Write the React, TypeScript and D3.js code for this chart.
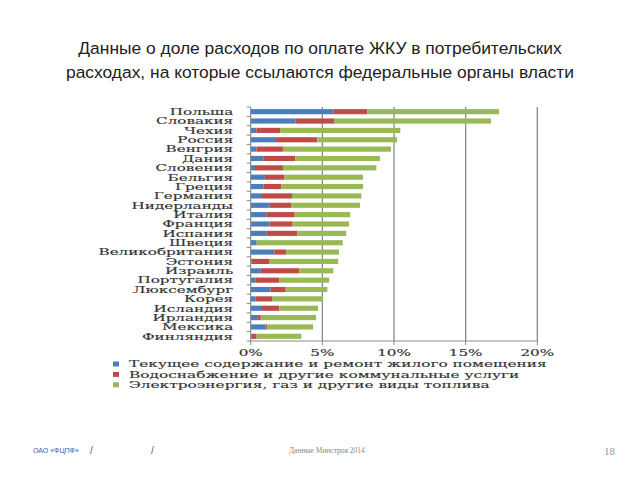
import { useMemo } from "react";
import * as d3 from "d3";

const countries = [
  "Польша", "Словакия", "Чехия", "Россия", "Венгрия", "Дания", "Словения",
  "Бельгия", "Греция", "Германия", "Нидерланды", "Италия", "Франция", "Испания",
  "Швеция", "Великобритания", "Эстония", "Израиль", "Португалия", "Люксембург",
  "Корея", "Исландия", "Ирландия", "Мексика", "Финляндия",
];
// shares of consumer spending, %
const maintenance = [5.76, 3.14, 0.4, 1.77, 0.4, 0.88, 0.3, 0.99, 0.9, 0.72, 1.33, 1.12, 1.31, 1.12, 0.42, 1.65, 0.05, 0.7, 0.35, 1.37, 0.35, 0.79, 0.46, 1.04, 0.05];
const utilities = [2.38, 2.67, 1.65, 2.88, 1.85, 2.23, 1.95, 1.35, 1.23, 2.16, 1.52, 1.95, 1.62, 2.14, 0, 0.81, 1.23, 2.69, 1.65, 1.07, 1.18, 1.21, 0.24, 0.12, 0.37];
const energy = [9.19, 10.96, 8.39, 5.56, 7.54, 5.91, 6.52, 5.5, 5.71, 4.84, 4.78, 3.88, 3.93, 3.41, 6.0, 3.7, 4.83, 2.37, 3.48, 2.91, 3.52, 2.7, 3.86, 3.19, 3.11];

const seriesNames = [
  "Текущее содержание и ремонт жилого помещения",
  "Водоснабжение и другие коммунальные услуги",
  "Электроэнергия, газ и другие виды топлива",
];
const seriesColors = ["#4a7ebb", "#be4b48", "#98b954"];
const xTicks = [0, 5, 10, 15, 20];

const title1 = "Данные о доле расходов по оплате ЖКУ в потребительских";
const title2 = "расходах, на которые ссылаются федеральные органы власти";

const serif = "'DejaVu Serif', serif";
const sans = "'Liberation Sans', Arial, sans-serif";
const stretch = 1.65;
const legendStretch = 1.67;

export default function App() {
  const W = 640, H = 480;
  const plot = { left: 250.7, right: 537.3, top: 107, bottom: 341 };

  const rows = useMemo(
    () => countries.map((c, i) => ({ country: c, s0: maintenance[i], s1: utilities[i], s2: energy[i] })),
    []
  );
  const stacked = d3.stack<any>().keys(["s0", "s1", "s2"])(rows);

  const x = d3.scaleLinear().domain([0, 20]).range([plot.left, plot.right]);
  const y = d3.scaleBand().domain(countries).range([plot.top, plot.bottom]).paddingInner(0.45).paddingOuter(0.225);
  const step = y.step();
  const bounds = d3.range(countries.length + 1).map((i) => plot.top + i * step);

  const chartText = { fontFamily: serif, fontSize: 9.2, fill: "#333", stroke: "#333", strokeWidth: 0.15 };

  return (
    <svg width={W} height={H} style={{ position: "absolute", left: 0, top: 0, background: "#fff" }}>
      <text x={W / 2} y={54} textAnchor="middle" fontFamily={sans} fontSize={17.4} fill="#222">{title1}</text>
      <text x={W / 2} y={78} textAnchor="middle" fontFamily={sans} fontSize={17.4} fill="#222">{title2}</text>

      {/* gridlines */}
      {xTicks.slice(1).map((t) => (
        <line key={t} x1={x(t)} x2={x(t)} y1={plot.top} y2={plot.bottom} stroke="#8a8a8a" strokeWidth={1.3} />
      ))}

      {/* bars */}
      {stacked.map((s, k) => (
        <g key={k} fill={seriesColors[k]}>
          {s.map((d: any, i: number) => (
            <rect key={i} x={x(d[0])} y={y(countries[i])} width={Math.max(0, x(d[1]) - x(d[0]))} height={y.bandwidth()} />
          ))}
        </g>
      ))}

      {/* axes */}
      <line x1={plot.left} x2={plot.left} y1={plot.top} y2={plot.bottom} stroke="#8a8a8a" strokeWidth={1.2} />
      <line x1={plot.left} x2={plot.right} y1={plot.bottom} y2={plot.bottom} stroke="#8a8a8a" strokeWidth={1.2} />
      {bounds.map((b, i) => (
        <line key={i} x1={plot.left - 4} x2={plot.left} y1={b} y2={b} stroke="#8a8a8a" strokeWidth={1} />
      ))}
      {xTicks.map((t) => (
        <line key={t} x1={x(t)} x2={x(t)} y1={plot.bottom} y2={plot.bottom + 4} stroke="#8a8a8a" strokeWidth={1} />
      ))}

      {/* category labels */}
      {countries.map((c) => (
        <text key={c} transform={`translate(${plot.left - 17.5},${(y(c) ?? 0) + y.bandwidth() / 2 + 3.3}) scale(${stretch},1)`}
          textAnchor="end" {...chartText}>{c}</text>
      ))}

      {/* x tick labels */}
      {xTicks.map((t) => (
        <text key={t} transform={`translate(${x(t)},${356}) scale(${stretch},1)`} textAnchor="middle" {...chartText}>{t + "%"}</text>
      ))}

      {/* legend */}
      {seriesNames.map((n, k) => (
        <g key={n} transform={`translate(113,${364 + k * 10.4})`}>
          <rect x={0} y={-2.5} width={6} height={5} fill={seriesColors[k]} />
          <text transform={`translate(16,3.3) scale(${legendStretch},1)`} {...chartText}>{n}</text>
        </g>
      ))}

      {/* footer */}
      <text x={33} y={453} fontFamily={sans} fontSize={7} fill="#3b62a8">ОАО «ФЦПФ»</text>
      <text x={90} y={454} fontFamily={sans} fontSize={10} fill="#3b62a8">/</text>
      <text x={151} y={454} fontFamily={sans} fontSize={10} fill="#3b62a8">/</text>
      <text x={289} y={453} fontFamily="'Liberation Serif', serif" fontSize={7.5} fill="#888">Данные Минстроя 2014</text>
      <text x={604} y={455} fontFamily="'Liberation Serif', serif" fontSize={11} fill="#999">18</text>
    </svg>
  );
}
